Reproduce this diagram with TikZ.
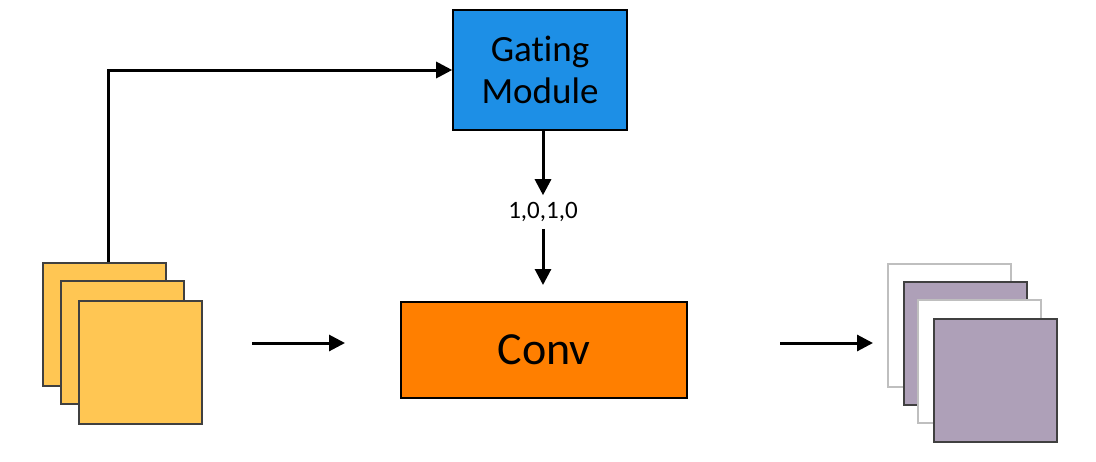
\documentclass[tikz,border=0pt]{standalone}
\usepackage{fontspec}
\setmainfont{Carlito}[Ligatures=NoCommon]
\usetikzlibrary{arrows.meta}

\definecolor{gateblue}{HTML}{1D8FE6}
\definecolor{convorange}{HTML}{FF7F00}
\definecolor{inyellow}{HTML}{FFC653}
\definecolor{outpurple}{HTML}{AEA0B8}

\begin{document}
\begin{tikzpicture}[x=0.5pt,y=-0.5pt,
    arr/.style={line width=1.5pt,-{Triangle[length=8pt,width=8pt]}},
    fmap/.style={draw=black!75,line width=0.8pt,minimum size=61.5pt,inner sep=0pt,anchor=north west},
    blankmap/.style={fmap,draw=black!25,fill=white}]
    \useasboundingbox (0,0) rectangle (1096,461);

    % gating and conv blocks
    \node[draw,line width=0.8pt,fill=gateblue,minimum width=87pt,minimum height=60pt,align=center,font=\fontsize{18.5}{21}\selectfont] (gate) at (540,70) {Gating\\Module};
    \node[draw,line width=0.8pt,fill=convorange,minimum width=143pt,minimum height=48pt,font=\fontsize{23}{26}\selectfont] (conv) at (544,350) {Conv};
    \node[font=\fontsize{12.5}{14}\selectfont] (mask) at (543,212) {1,0,1,0};

    % input feature maps
    \node[fmap,fill=inyellow] (in1) at (42,262) {};
    \node[fmap,fill=inyellow] (in2) at (60,280) {};
    \node[fmap,fill=inyellow] (in3) at (78,300) {};

    % output feature maps (pruned channels left blank)
    \node[blankmap] (out1) at (887,263) {};
    \node[fmap,fill=outpurple] (out2) at (903,281) {};
    \node[blankmap] (out3) at (917,299) {};
    \node[fmap,fill=outpurple] (out4) at (933,318) {};

    \coordinate (inR) at (252,343);
    \coordinate (convL) at (345,343);
    \coordinate (convR) at (780,343);
    \coordinate (outL) at (873,343);
    \coordinate (convT) at (543,285);

    \draw[arr] ([xshift=2pt]in1.north) |- (gate.west);
    \draw[arr] (mask.north |- gate.south) -- (mask.north);
    \draw[arr] (mask.south) -- (convT);
    \draw[arr] (inR) -- (convL);
    \draw[arr] (convR) -- (outL);
  \end{tikzpicture}
\end{document}
